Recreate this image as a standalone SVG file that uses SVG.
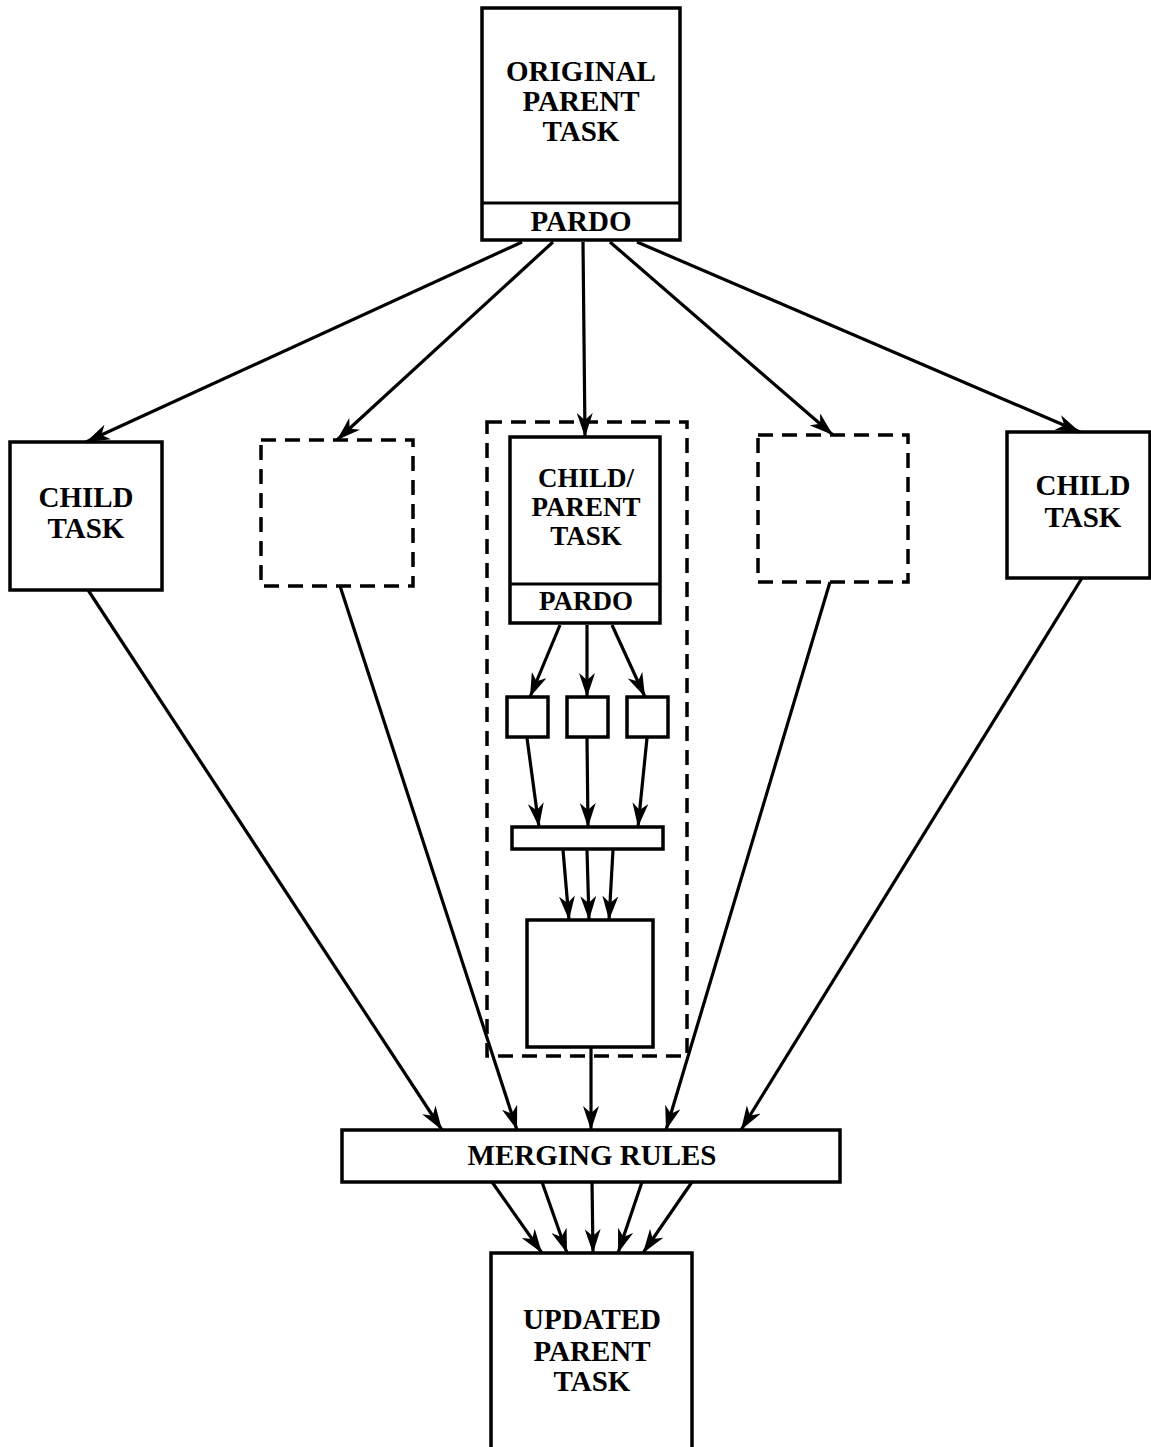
<svg xmlns="http://www.w3.org/2000/svg" width="1151" height="1447" viewBox="0 0 1151 1447">
<style>
.box{fill:#fff;stroke:#000;stroke-width:3.5}
.dash{fill:none;stroke:#000;stroke-width:3.5;stroke-dasharray:15 9}
.lbl{font-family:"Liberation Serif","Times New Roman",serif;font-weight:bold;font-size:29px;text-anchor:middle;fill:#000}
.sm{font-size:27px}
.c{stroke:#000;stroke-width:3.2;fill:none;marker-end:url(#ah)}
</style>
<defs>
<marker id="ah" markerUnits="userSpaceOnUse" markerWidth="26" markerHeight="16" refX="24" refY="8" orient="auto">
<path d="M0,0 L24,8 L0,16 L7,8 z" fill="#000"/>
</marker>
</defs>
<rect width="1151" height="1447" fill="#fff"/>

<g id="original-parent">
<rect class="box" x="482" y="8" width="198" height="232"/>
<line x1="482" y1="203" x2="680" y2="203" stroke="#000" stroke-width="3"/>
<text class="lbl" x="581" y="81">ORIGINAL</text>
<text class="lbl" x="581" y="111">PARENT</text>
<text class="lbl" x="581" y="141">TASK</text>
<text class="lbl" x="581" y="231">PARDO</text>
</g>

<g id="child-left">
<rect class="box" x="10" y="442" width="152" height="148"/>
<text class="lbl" x="86" y="507">CHILD</text>
<text class="lbl" x="86" y="538">TASK</text>
</g>

<g id="dashed-left">
<rect class="dash" x="261" y="440" width="152" height="146"/>
</g>

<g id="child-parent-group">
<rect class="dash" x="487" y="422" width="200" height="634"/>
</g>

<g id="child-parent">
<rect class="box" x="510" y="437" width="150" height="186"/>
<line x1="510" y1="584" x2="660" y2="584" stroke="#000" stroke-width="3"/>
<text class="lbl sm" x="586" y="487">CHILD/</text>
<text class="lbl sm" x="586" y="516">PARENT</text>
<text class="lbl sm" x="586" y="545">TASK</text>
<text class="lbl sm" x="586" y="610">PARDO</text>
</g>

<g id="sub1"><rect class="box" x="507" y="697" width="41" height="40"/></g>
<g id="sub2"><rect class="box" x="567" y="697" width="41" height="40"/></g>
<g id="sub3"><rect class="box" x="627" y="697" width="41" height="40"/></g>
<g id="sub-merge"><rect class="box" x="512" y="827" width="151" height="22"/></g>
<g id="sub-result"><rect class="box" x="527" y="920" width="126" height="127"/></g>

<g id="dashed-right">
<rect class="dash" x="758" y="435" width="150" height="147"/>
</g>

<g id="child-right">
<rect class="box" x="1007" y="432" width="143" height="146"/>
<text class="lbl" x="1083" y="495">CHILD</text>
<text class="lbl" x="1083" y="527">TASK</text>
</g>

<g id="merging-rules">
<rect class="box" x="342" y="1130" width="498" height="52"/>
<text class="lbl" x="592" y="1165">MERGING RULES</text>
</g>

<g id="updated-parent">
<rect class="box" x="491" y="1253" width="201" height="200"/>
<text class="lbl" x="592" y="1329">UPDATED</text>
<text class="lbl" x="592" y="1361">PARENT</text>
<text class="lbl" x="592" y="1391">TASK</text>
</g>

<g id="connectors">
<line class="c" x1="522" y1="242" x2="86" y2="442"/>
<line class="c" x1="553" y1="242" x2="337" y2="440"/>
<line class="c" x1="583" y1="242" x2="585" y2="437"/>
<line class="c" x1="610" y1="242" x2="833" y2="435"/>
<line class="c" x1="637" y1="242" x2="1080" y2="432"/>

<line class="c" x1="560" y1="625" x2="530" y2="697"/>
<line class="c" x1="587" y1="625" x2="587" y2="697"/>
<line class="c" x1="612" y1="625" x2="645" y2="697"/>

<line class="c" x1="527" y1="738" x2="539" y2="827"/>
<line class="c" x1="587" y1="738" x2="588" y2="827"/>
<line class="c" x1="647" y1="738" x2="638" y2="827"/>

<line class="c" x1="563" y1="850" x2="569" y2="920"/>
<line class="c" x1="587" y1="850" x2="589" y2="920"/>
<line class="c" x1="613" y1="850" x2="609" y2="920"/>

<line class="c" x1="88" y1="590" x2="442" y2="1130"/>
<line class="c" x1="340" y1="586" x2="517" y2="1130"/>
<line class="c" x1="591" y1="1047" x2="591" y2="1130"/>
<line class="c" x1="830" y1="582" x2="666" y2="1130"/>
<line class="c" x1="1082" y1="578" x2="741" y2="1130"/>

<line class="c" x1="492" y1="1182" x2="542" y2="1253"/>
<line class="c" x1="542" y1="1182" x2="567" y2="1253"/>
<line class="c" x1="592" y1="1182" x2="593" y2="1253"/>
<line class="c" x1="642" y1="1182" x2="618" y2="1253"/>
<line class="c" x1="692" y1="1182" x2="643" y2="1253"/>
</g>
</svg>
